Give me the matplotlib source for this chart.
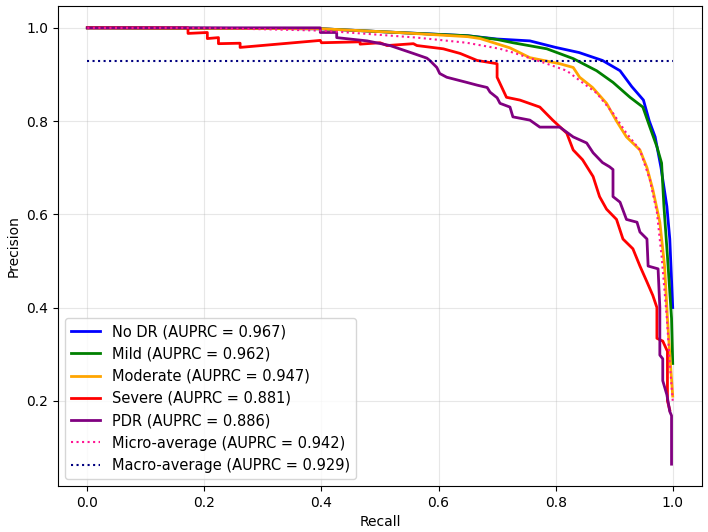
import numpy as np
import matplotlib
matplotlib.use("Agg")
import matplotlib.pyplot as plt

# Courbes precision-rappel
labels = ["No DR", "Mild", "Moderate", "Severe", "PDR"]
auprc = [0.967, 0.962, 0.947, 0.881, 0.886]
couleurs = ["blue", "green", "orange", "red", "purple"]

rec_nodr = [0, 0.40, 0.45, 0.53, 0.60, 0.65, 0.70, 0.756, 0.80, 0.84, 0.88, 0.91, 0.93,
            0.95, 0.96, 0.97, 0.98, 0.99, 0.995, 1.0]
prec_nodr = [1.0, 0.998, 0.995, 0.99, 0.986, 0.983, 0.976, 0.972, 0.958, 0.947, 0.93, 0.908,
             0.874, 0.845, 0.80, 0.766, 0.70, 0.617, 0.547, 0.40]

rec_mild = [0, 0.40, 0.53, 0.65, 0.70, 0.727, 0.785, 0.83, 0.87, 0.898, 0.927, 0.949, 0.961,
            0.973, 0.981, 0.985, 0.991, 0.998, 1.0]
prec_mild = [1.0, 0.998, 0.99, 0.983, 0.975, 0.968, 0.955, 0.934, 0.908, 0.883, 0.851, 0.83,
             0.787, 0.745, 0.71, 0.617, 0.51, 0.377, 0.28]

rec_mod = [0, 0.40, 0.53, 0.65, 0.671, 0.722, 0.756, 0.807, 0.83, 0.841, 0.863, 0.887, 0.904,
           0.921, 0.944, 0.956, 0.966, 0.978, 0.986, 0.991, 0.995, 1.0]
prec_mod = [1.0, 0.998, 0.99, 0.981, 0.977, 0.957, 0.936, 0.923, 0.915, 0.894, 0.872, 0.838,
            0.80, 0.766, 0.738, 0.70, 0.653, 0.583, 0.49, 0.377, 0.30, 0.21]

rec_sev = [0, 0.172, 0.172, 0.205, 0.205, 0.224, 0.224, 0.261, 0.261, 0.398, 0.40, 0.466,
           0.466, 0.50, 0.512, 0.557, 0.563, 0.608, 0.637, 0.666, 0.70, 0.70, 0.716, 0.739,
           0.773, 0.795, 0.819, 0.83, 0.846, 0.864, 0.875, 0.887, 0.904, 0.915, 0.932, 0.944,
           0.956, 0.966, 0.973, 0.973, 0.983, 0.991, 0.991, 0.995]
prec_sev = [1.0, 1.0, 0.988, 0.990, 0.977, 0.979, 0.966, 0.967, 0.958, 0.973, 0.968, 0.970,
            0.965, 0.968, 0.962, 0.966, 0.962, 0.955, 0.945, 0.93, 0.923, 0.894, 0.851, 0.845,
            0.83, 0.802, 0.774, 0.738, 0.717, 0.681, 0.638, 0.611, 0.589, 0.547, 0.526, 0.489,
            0.455, 0.426, 0.40, 0.334, 0.328, 0.306, 0.20, 0.18]

rec_pdr = [0, 0.398, 0.398, 0.426, 0.426, 0.478, 0.517, 0.557, 0.58, 0.585, 0.597, 0.602,
           0.614, 0.648, 0.666, 0.683, 0.688, 0.70, 0.705, 0.722, 0.727, 0.756, 0.773, 0.807,
           0.83, 0.853, 0.864, 0.88, 0.892, 0.898, 0.898, 0.91, 0.921, 0.939, 0.944, 0.956,
           0.958, 0.975, 0.978, 0.978, 0.983, 0.983, 0.99, 0.995, 0.998, 0.998]
prec_pdr = [1.0, 1.0, 0.99, 0.99, 0.979, 0.972, 0.962, 0.945, 0.935, 0.93, 0.915, 0.902,
            0.894, 0.883, 0.877, 0.872, 0.862, 0.85, 0.838, 0.83, 0.809, 0.802, 0.787, 0.787,
            0.766, 0.753, 0.732, 0.711, 0.702, 0.696, 0.638, 0.626, 0.589, 0.583, 0.562, 0.547,
            0.489, 0.483, 0.40, 0.298, 0.29, 0.243, 0.213, 0.177, 0.168, 0.064]

rec_micro = [0, 0.17, 0.30, 0.40, 0.478, 0.563, 0.648, 0.705, 0.727, 0.785, 0.819, 0.841,
             0.87, 0.898, 0.921, 0.944, 0.961, 0.973, 0.981, 0.99, 0.995, 1.0]
prec_micro = [1.0, 1.0, 0.997, 0.994, 0.987, 0.979, 0.968, 0.955, 0.947, 0.923, 0.908, 0.887,
              0.86, 0.817, 0.774, 0.738, 0.674, 0.604, 0.51, 0.377, 0.28, 0.20]
auprc_micro = 0.942
auprc_macro = 0.929

rappels = [rec_nodr, rec_mild, rec_mod, rec_sev, rec_pdr]
precisions = [prec_nodr, prec_mild, prec_mod, prec_sev, prec_pdr]

fig = plt.figure(figsize=(7.08, 5.32), dpi=100)
ax = fig.add_axes([0.082, 0.0865, 0.9095, 0.9022])

for r, p, lab, a, c in zip(rappels, precisions, labels, auprc, couleurs):
    ax.plot(r, p, color=c, lw=2, label="{0} (AUPRC = {1:.3f})".format(lab, a))

ax.plot(rec_micro, prec_micro, color="deeppink", lw=1.5, linestyle=":",
        label="Micro-average (AUPRC = {0:.3f})".format(auprc_micro))
ax.plot([0, 1], [auprc_macro, auprc_macro], color="navy", lw=1.5, linestyle=":",
        label="Macro-average (AUPRC = {0:.3f})".format(auprc_macro))

ax.set_xticks(np.arange(0, 1.01, 0.2))
ax.set_yticks([0.2, 0.4, 0.6, 0.8, 1.0])
ax.grid(True, alpha=0.3)
ax.set_xlabel("Recall")
ax.set_ylabel("Precision")
ax.legend(loc="lower left", fontsize=10.5)

fig.savefig("out.png", dpi=100)
